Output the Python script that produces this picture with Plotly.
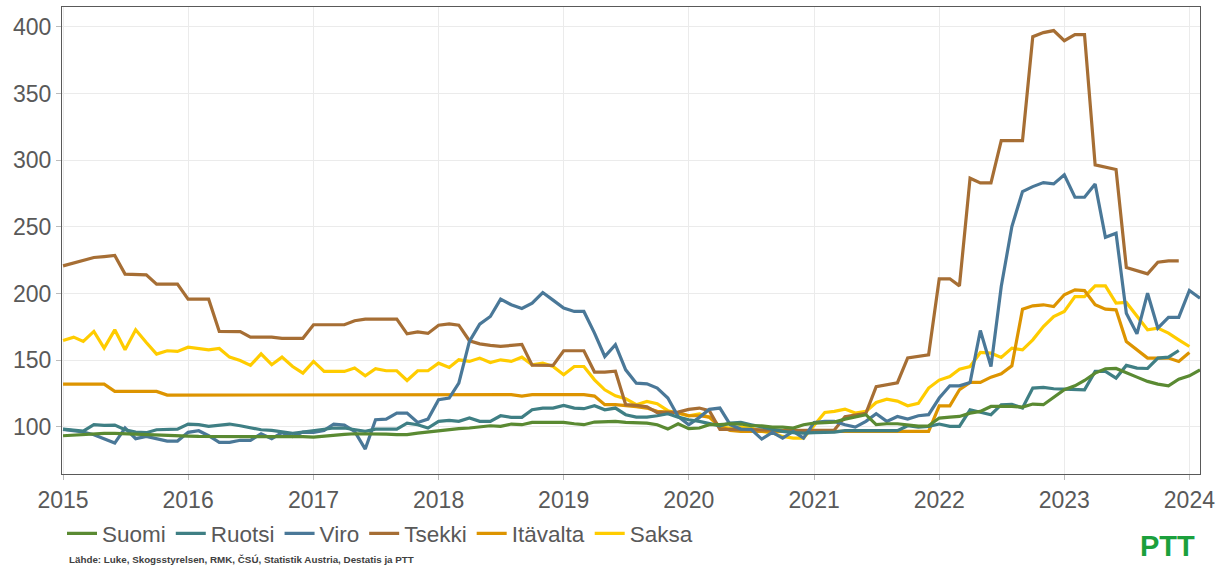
import pandas as pd
import plotly.graph_objects as go

dates = pd.date_range("2015-01-01", "2024-02-01", freq="MS")

suomi = [93.2, 93.7, 94.2, 94.7, 95, 95, 94.8, 94.5, 94.2, 94, 93.8, 93.5,
         93, 92.7, 92.7, 92.7, 92.7, 93, 93, 93, 93, 93, 92.7, 92.5,
         92.2, 93, 94, 94.3, 94.7, 94.7, 94.7, 94.5, 94, 94, 95.2, 96,
         97.2, 98, 98.5, 99, 99.7, 100.7, 100.2, 102, 101.5, 103.2, 103.2, 103.2,
         103.2, 102.2, 101.5, 103.5, 104, 104, 103.2, 102.7, 102.7, 101.5, 98.2, 102.2,
         98.5, 99, 101.5, 101.5, 102.2, 102, 100.7, 100.7, 99.7, 99.7, 99, 101.5,
         102.7, 103, 103.5, 105.7, 107.2, 109, 101.5, 102.2, 102.2, 101.5, 100.5, 100.7,
         106.5, 107.2, 107.7, 110.2, 111.5, 115.2, 115.5, 115.3, 114.7, 117, 116.5, 122.2,
         127.7, 130.7, 134.7, 140.2, 143.5, 143.7, 140.2, 137.2, 134, 132, 130.7, 135.7,
         138.2, 142.7]

ruotsi = [98.2, 97.7, 96.7, 101.5, 101, 101.2, 97.7, 96, 95.5, 97.7, 98.2, 98.2,
          102, 101.5, 100.2, 101, 102, 100.7, 99, 97.7, 97.2, 96, 95, 96,
          97, 98, 99, 99, 97.7, 96.5, 98.2, 98.2, 98.2, 102.7, 101.5, 99,
          104, 104.7, 104, 106.5, 104, 104, 108.2, 107, 107, 112.7, 114, 114,
          116, 114, 113.5, 115.7, 112.7, 114, 109, 107.2, 107.2, 108.2, 109.7, 107.2,
          105.2, 104, 102.2, 100.7, 102.7, 103.2, 101.5, 99.7, 98.2, 96.5, 95.5, 95.2,
          95.5, 95.7, 96, 97, 97, 97, 97, 97, 97, 100.7, 99.7, 100.2,
          102, 100.2, 100.2, 112.7, 110.7, 109, 116.5, 116.8, 114, 129, 129.5, 128.5,
          128.2, 128.2, 127.7, 141.5, 141.5, 136.5, 146, 144, 143.7, 151.5, 152.2, 157.2,
          None, None]

viro = [98, 97, 96, 94, 91, 87.7, 99, 91, 92.7, 91.2, 89.2, 89.2,
        95.8, 97, 93.2, 88.2, 88.2, 89.8, 89.8, 94.7, 91, 95.5, 92.7, 96,
        95.8, 97.2, 102, 101.2, 96.5, 83.2, 105.2, 105.7, 110.2, 110.2, 103.2, 105.7,
        120.2, 121.5, 132.7, 164, 177, 182.7, 195.7, 191.5, 188.7, 192.7, 200.7, 195,
        189, 186.5, 186.5, 170.2, 152.7, 161.5, 142.7, 132.7, 132.2, 129, 121.5, 107.7,
        101.5, 107, 113, 114, 101.5, 98.2, 98, 90.7, 95.8, 91.5, 96.5, 91.5,
        103.2, 104, 104, 101.5, 99.7, 104, 109.7, 104, 107.7, 105.7, 108.2, 109,
        121.5, 130.7, 130.7, 133.2, 172.2, 145.2, 205.2, 250.2, 276.5, 280.2, 283.2, 282.2,
        289, 272.2, 272.2, 282.2, 242.2, 245.2, 185.2, 169.7, 200.2, 174, 182, 182,
        202.2, 196.5]

tsekki = [220.7, 223, 225, 227, 227.7, 228.5, 214.5, 214.5, 214, 207, 207, 207,
          195.7, 195.7, 195.7, 171.5, 171.5, 171.3, 167.2, 167.2, 167.2, 166.3, 166.3, 166.3,
          176.5, 176.5, 176.5, 176.5, 179.5, 180.7, 180.7, 180.7, 180.7, 169.7, 171.2, 170,
          176.2, 177.2, 176.2, 164.5, 162.2, 161, 160.3, 161, 161.8, 146.2, 146, 146,
          157, 157, 157, 141, 141, 141.6, 116.5, 116, 115, 110.5, 110.5, 111,
          113, 114, 112, 98, 98, 98, 97.5, 97.5, 97.5, 97, 97, 97,
          97.5, 97.5, 97.5, 107.5, 109, 110, 130, 131.5, 133, 151.6, 153, 154,
          211, 211, 205.7, 286.5, 283, 283, 314.7, 314.7, 314.7, 392.7, 395.8, 397.3,
          389.7, 394.3, 394.3, 296.5, 294.5, 293, 219.5, 217, 214.7, 223.5, 224.5, 224.5,
          None, None]

itavalta = [132, 132, 132, 132, 132, 126.5, 126.5, 126.5, 126.5, 126.5, 123.7, 123.7,
            123.5, 123.5, 123.5, 123.5, 123.5, 123.5, 123.5, 123.5, 123.5, 123.5, 123.5, 123.5,
            123.5, 123.5, 123.5, 123.5, 123.5, 123.5, 123.5, 123.5, 123.5, 123.5, 123.5, 123.5,
            124, 124, 124, 124, 124, 124, 124, 124, 123, 124, 124, 124,
            124, 124, 124, 123, 116.5, 116.5, 116, 115, 114, 111.5, 111, 110.5,
            108.2, 108.2, 107.2, 100.2, 97.2, 96.5, 96.5, 96.5, 96.5, 96.5, 96.5, 96.5,
            96.5, 96.5, 96.5, 96.5, 96.5, 96.5, 96.5, 96.5, 96.5, 96.5, 96.5, 96.5,
            115.7, 115.7, 127.7, 133.2, 133.2, 137.2, 139.7, 145.7, 188.2, 190.7, 191.5, 190.2,
            199, 202.7, 202.2, 191.5, 188.2, 187.7, 164, 157.7, 151.5, 151.5, 151.5, 149,
            155.7, None]

saksa = [164.7, 167.2, 164, 171.5, 159, 172.7, 157.7, 172.7, 163.2, 154.5, 157, 156.5,
         159.7, 158.7, 157.7, 158.7, 152.2, 149.7, 146, 154.7, 146.5, 152.2, 145.2, 140.2,
         149, 141.5, 141.5, 141.5, 144, 138.2, 143.5, 142, 142, 134.7, 142, 142,
         147.7, 144.5, 150.2, 149, 151.5, 148.2, 150.2, 149, 152.2, 146.5, 147.7, 145.2,
         139, 145.2, 145.2, 135.2, 127.7, 123.2, 121, 116.5, 119, 117.2, 112, 110,
         108.2, 109.7, 107.2, 99.7, 99, 99.7, 99, 96.5, 95.2, 92.7, 91.5, 91.5,
         101.5, 110.7, 111.5, 113.2, 110.2, 111.5, 118.2, 120.7, 119.2, 115.7, 117.5, 129,
         135, 137.7, 143.2, 145.2, 155.7, 155.2, 152, 159, 157.7, 165.2, 175.2, 182.7,
         186.5, 197.7, 197.7, 205.7, 205.7, 192.7, 193.2, 182.7, 172.7, 174, 170.2, 165.2,
         160.2, None]

names = ["Suomi", "Ruotsi", "Viro", "Tsekki", "Itävalta", "Saksa"]
series = [suomi, ruotsi, viro, tsekki, itavalta, saksa]
colors = ["#5A8A32", "#3F7F84", "#4A7898", "#A66E34", "#DD9400", "#FFCC00"]

fig = go.Figure()
# draw in reverse order so that Suomi ends up on top
for name, vals, col in reversed(list(zip(names, series, colors))):
    fig.add_trace(go.Scatter(x=dates, y=vals, name=name, mode="lines",
                             line=dict(color=col, width=3.2), connectgaps=False))

axis_common = dict(showgrid=True, gridcolor="#EBEBEB", gridwidth=1,
                   showline=True, linecolor="#595959", linewidth=1, mirror=True,
                   ticks="outside", ticklen=5, tickcolor="#BBBBBB",
                   tickfont=dict(family="Liberation Sans, Arial, sans-serif", size=23, color="#595959"),
                   zeroline=False)

fig.update_xaxes(range=["2014-12-29", "2024-02-01"], dtick="M12", tickformat="%Y",
                 tick0="2015-01-01", **axis_common)
fig.update_yaxes(range=[64.5, 415], dtick=50, tick0=0, **axis_common)

fig.update_layout(
    width=1221, height=565,
    margin=dict(l=62, r=21, t=7, b=91),
    plot_bgcolor="white", paper_bgcolor="white",
    font=dict(family="Liberation Sans, Arial, sans-serif", color="#595959"),
    legend=dict(orientation="h", x=0.0, xanchor="left", y=-0.128, yanchor="middle",
                traceorder="reversed", font=dict(size=22.5, color="#595959"),
                itemwidth=30, tracegroupgap=0),
    showlegend=True,
)

fig.add_annotation(xref="paper", yref="paper", x=0.004, y=-0.184, xanchor="left", yanchor="middle",
                   text="<b>Lähde: Luke, Skogsstyrelsen, RMK, ČSÚ, Statistik Austria, Destatis ja PTT</b>",
                   showarrow=False,
                   font=dict(family="Liberation Sans Narrow, Liberation Sans, Arial, sans-serif",
                             size=9.8, color="#404040"))

fig.add_annotation(xref="paper", yref="paper", x=0.9975, y=-0.155, xanchor="right", yanchor="middle",
                   text="<b>PTT</b>", showarrow=False,
                   font=dict(family="Liberation Sans, Arial, sans-serif", size=29, color="#1BA03C"))

fig.write_html("out.html", config={"displayModeBar": False},
               post_script="document.body.style.margin='0';")
